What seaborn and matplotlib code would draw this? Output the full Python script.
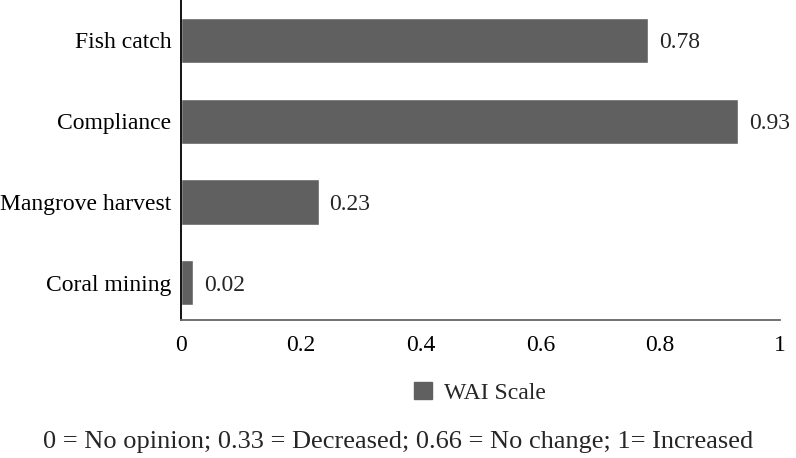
import matplotlib
matplotlib.use('Agg')
import matplotlib.pyplot as plt
import matplotlib.patches as mpatches
import seaborn as sns
import pandas as pd

categories = ['Fish catch', 'Compliance', 'Mangrove harvest', 'Coral mining']
wai_values = [0.78, 0.93, 0.23, 0.02]
x_ticks = [0, 0.2, 0.4, 0.6, 0.8, 1]
x_tick_labels = ['0', '0.2', '0.4', '0.6', '0.8', '1']
legend_label = 'WAI Scale'
footnote = '0 = No opinion; 0.33 = Decreased; 0.66 = No change; 1= Increased'

BAR_COLOR = '#606060'
FS = 17

sns.set_style('white')
plt.rcParams['font.family'] = ['Liberation Serif', 'DejaVu Serif']

df = pd.DataFrame({'category': categories, 'value': wai_values})

fig = plt.figure(figsize=(7.96, 4.58), dpi=100)
ax = fig.add_axes([181 / 796, 1 - 320 / 458, (780 - 181) / 796, 320 / 458])

sns.barplot(data=df, x='value', y='category', color=BAR_COLOR, saturation=1,
            width=0.56, ax=ax)

for i, v in enumerate(wai_values):
    ax.text(v + 0.018, i, f'{v:.2f}', va='center_baseline', ha='left', fontsize=FS)

ax.set_xlim(0, 1)
ax.set_ylim(3.46, -0.5)
ax.set_xticks(x_ticks)
ax.set_xticklabels(x_tick_labels)
ax.set_xlabel('')
ax.set_ylabel('')
ax.tick_params(axis='both', length=0, labelsize=FS, colors='black')
ax.tick_params(axis='x', pad=11)
ax.tick_params(axis='y', pad=7)

for s in ['top', 'right']:
    ax.spines[s].set_visible(False)
ax.spines['left'].set_color('black')
ax.spines['left'].set_linewidth(1.3)
ax.spines['bottom'].set_color('#666666')
ax.spines['bottom'].set_linewidth(1.3)

handle = mpatches.Patch(color=BAR_COLOR, label=legend_label)
fig.legend(handles=[handle], loc='center', bbox_to_anchor=(480 / 796, 1 - 393 / 458),
           frameon=False, fontsize=FS, handlelength=0.75, handleheight=0.75,
           handletextpad=0.5)

fig.text(0.5, 1 - 442 / 458, footnote, ha='center', va='center', fontsize=19)

fig.savefig('out.png', dpi=100)
